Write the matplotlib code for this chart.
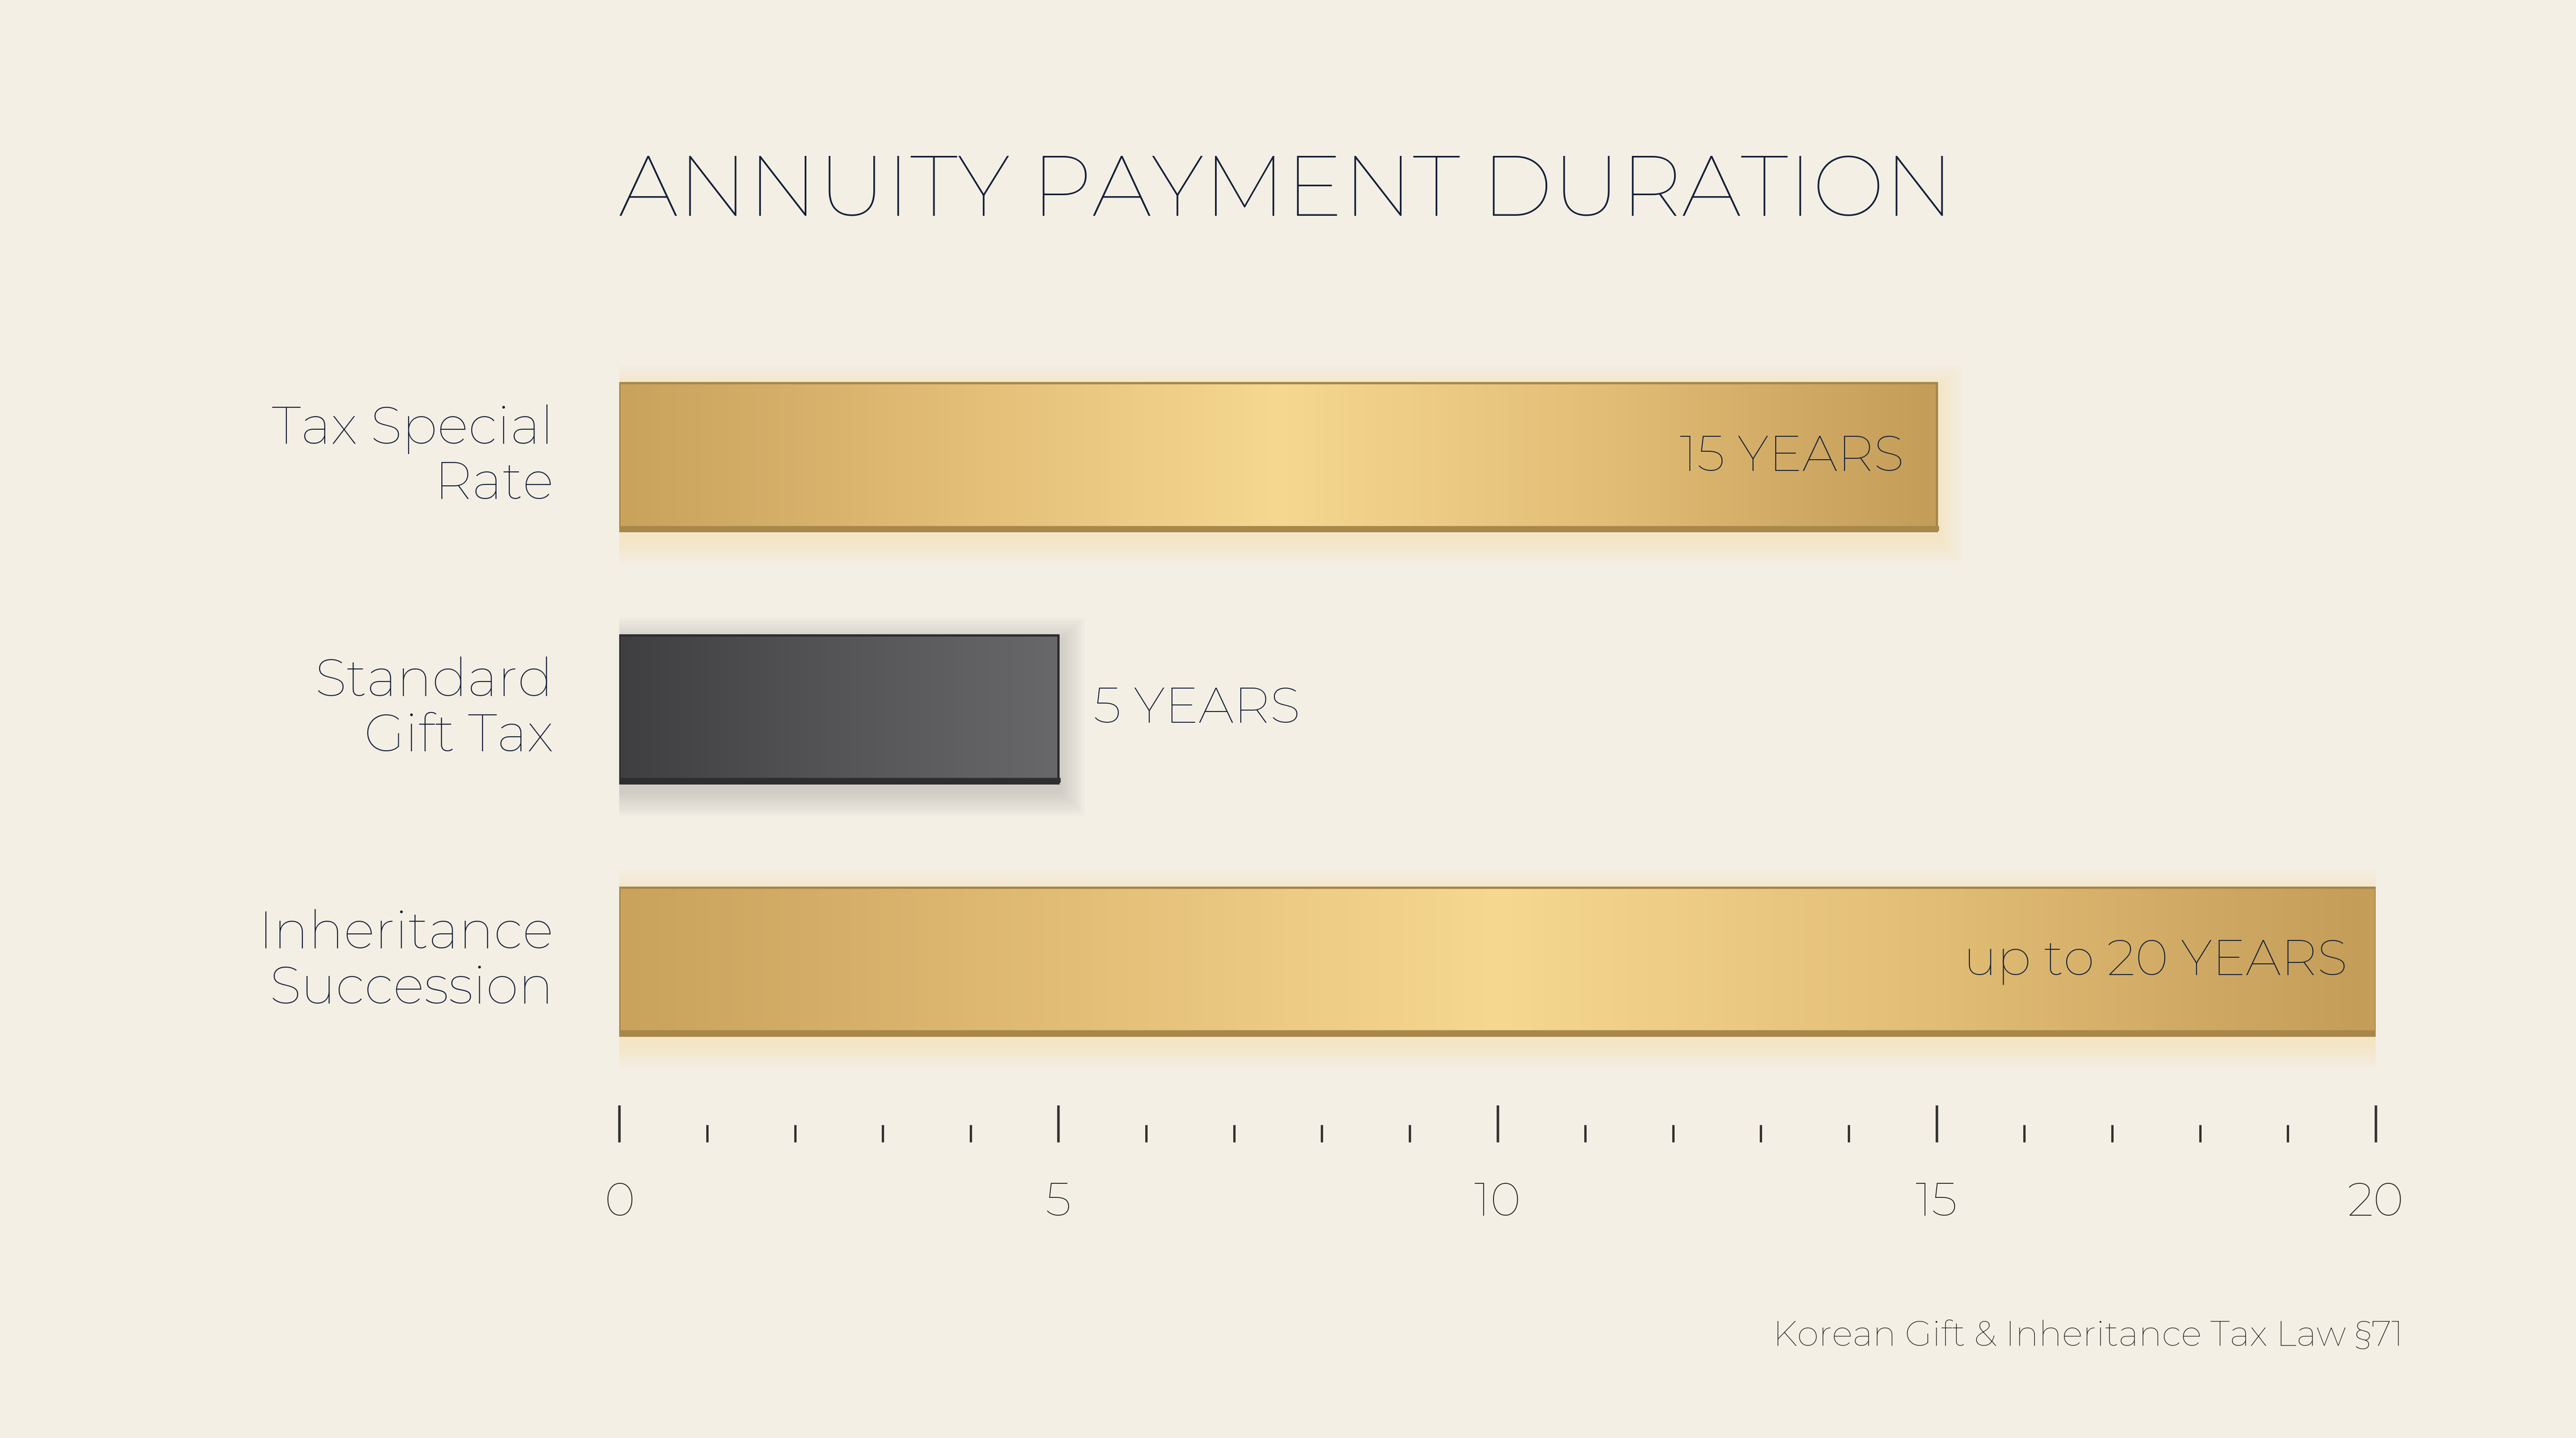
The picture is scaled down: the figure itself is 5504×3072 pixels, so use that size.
import numpy as np
import matplotlib
matplotlib.use("Agg")
import matplotlib.pyplot as plt
from matplotlib.colors import LinearSegmentedColormap
from matplotlib.ticker import MultipleLocator

categories = ["Tax Special\nRate", "Standard\nGift Tax", "Inheritance\nSuccession"]
years = [15, 5, 20]
bar_kind = ["gold", "gray", "gold"]
value_labels = [("", "15 YEARS"), ("", "5 YEARS"), ("up to ", "20 YEARS")]
title = "ANNUITY PAYMENT DURATION"
source = "Korean Gift & Inheritance Tax Law §71"

BG = "#f4efe4"
NAVY = "#14203a"
FONT = ["Montserrat", "Inter", "DejaVu Sans"]
plt.rcParams["font.family"] = FONT

W, H = 1568, 875  # reference layout units
fig = plt.figure(figsize=(5504 / 300, 3072 / 300), dpi=300, facecolor=BG)
ax_left, ax_right = 377 / W, 1446 / W
ax_top, ax_bot = 200 / H, 695 / H
ax = fig.add_axes([ax_left, 1 - ax_bot, ax_right - ax_left, ax_bot - ax_top])
ax.set_facecolor("none")
ax.set_xlim(0, 20)
ax.set_ylim((695 - 278) / 153.5, (200 - 278) / 153.5)
for s in ax.spines.values():
    s.set_visible(False)
ax.set_yticks([])
ax.xaxis.set_major_locator(MultipleLocator(5))
ax.xaxis.set_minor_locator(MultipleLocator(1))
ax.tick_params(axis="x", which="major", direction="in", length=19, width=1.3,
               color="#333333", pad=20, labelsize=24, labelcolor="#222222")
ax.tick_params(axis="x", which="minor", direction="in", length=9, width=1.2,
               color="#333333")
for lab in ax.get_xticklabels():
    lab.set_fontweight("light")

gold = LinearSegmentedColormap.from_list("g", ["#c9a25c", "#e2bd76", "#f6d891", "#e2bd76", "#c49d58"])
gray = LinearSegmentedColormap.from_list("k", ["#3f3f41", "#555557", "#68686a"])
h = 0.586
grad = np.linspace(0, 1, 512).reshape(1, -1)
for i, (v, kind) in enumerate(zip(years, bar_kind)):
    # soft glow / shadow
    gc = "#f3cf7a" if kind == "gold" else "#777777"
    for k in range(8):
        pad = 0.05 + k * 0.04
        ax.add_patch(plt.Rectangle((-pad * 0.9, i - h / 2 - pad * 0.3 + 0.03), v + pad * 1.8, h + pad * 0.6,
                                   facecolor=gc, edgecolor="none", alpha=0.035, zorder=1))
    cmap = gold if kind == "gold" else gray
    ax.imshow(grad, cmap=cmap, aspect="auto", extent=(0, v, i + h / 2, i - h / 2),
              zorder=2, interpolation="bicubic")
    edge = "#a8874a" if kind == "gold" else "#2e2e30"
    ax.add_patch(plt.Rectangle((0, i - h / 2), v, h, facecolor="none", edgecolor=edge,
                               linewidth=1.2, zorder=3))
    ax.plot([0, v], [i + h / 2 - 0.01, i + h / 2 - 0.01], color=edge, lw=2.5, zorder=3)
    ax.text(-0.75, i, categories[i], ha="right", va="center", fontsize=27,
            color=NAVY, linespacing=1.15, fontweight="medium")

ax.set_xlim(0, 20)
ax.set_ylim((695 - 278) / 153.5, (200 - 278) / 153.5)

fig.canvas.draw()
r = fig.canvas.get_renderer()
for i, (v, (pre, bold)) in enumerate(zip(years, value_labels)):
    if v >= 10:
        x = v - (0.37 if v == 15 else 0.32)
        t = ax.text(x, i, bold, ha="right", va="center", fontsize=26,
                    fontweight="bold", color=NAVY, zorder=5)
        if pre:
            bb = t.get_window_extent(r)
            xd = ax.transData.inverted().transform((bb.x0, bb.y0))[0]
            ax.text(xd, i, pre, ha="right", va="center", fontsize=26,
                    color=NAVY, zorder=5)
    else:
        ax.text(v + 0.4, i, bold, ha="left", va="center", fontsize=26,
                fontweight="bold", color=NAVY, zorder=5)

fig.text(783 / W, 1 - 117 / H, title, ha="center", va="center", fontsize=44,
         fontweight="bold", color=NAVY)
fig.text(1463 / W, 1 - 813 / H, source, ha="right", va="center", fontsize=18,
         color="#222222")

fig.savefig("out.png", dpi=300, facecolor=BG)
